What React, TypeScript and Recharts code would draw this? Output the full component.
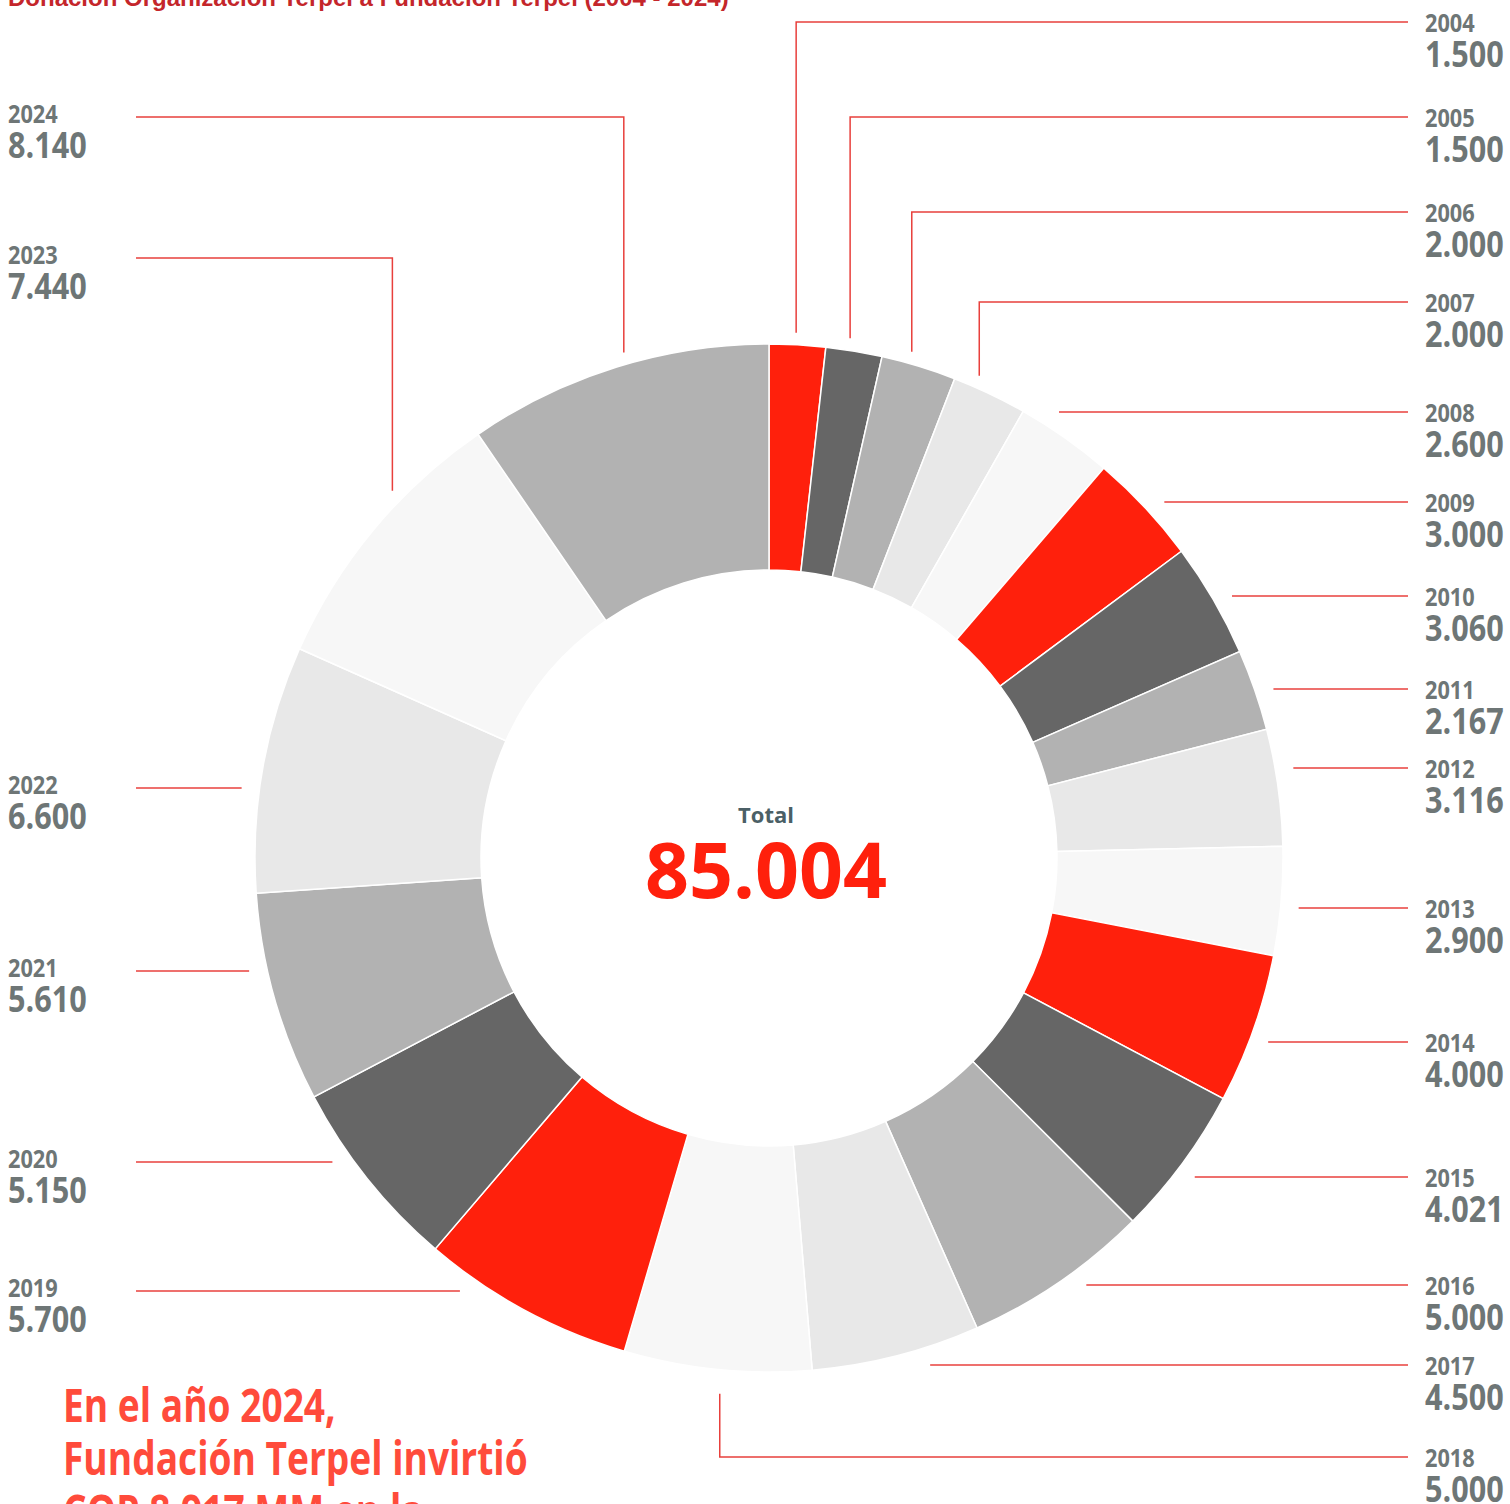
import React from "react"
import { Cell, Pie, PieChart } from "recharts"

// Donación Organización Terpel a Fundación Terpel, valores por año
const years = [
  "2004", "2005", "2006", "2007", "2008", "2009", "2010", "2011", "2012", "2013", "2014",
  "2015", "2016", "2017", "2018", "2019", "2020", "2021", "2022", "2023", "2024",
]
const values = [
  1500, 1500, 2000, 2000, 2600, 3000, 3060, 2167, 3116, 2900, 4000,
  4021, 5000, 4500, 5000, 5700, 5150, 5610, 6600, 7440, 8140,
]

// leader-line row (y of the horizontal rule) for each year, and whether it drops vertically into the slice
const leaderRows = [22, 117, 212, 302, 412, 502, 596, 689, 768, 908, 1042, 1177, 1285, 1365, 1457, 1291, 1162, 971, 788, 258, 117]
const leaderDrop = [true, true, true, true, false, false, false, false, false, false, false, false, false, false, true, false, false, false, false, true, true]
const leftSide = [false, false, false, false, false, false, false, false, false, false, false, false, false, false, false, true, true, true, true, true, true]

const palette = ["#ff200c", "#666666", "#b2b2b2", "#e8e8e8", "#f7f7f7"]
const lastColor = "#b2b2b2"

const RED_LINE = "#e8403c"
const GREY_TEXT = "#6e7676"
const SANS = "'Open Sans', sans-serif"

const fmt = (v: number) => String(v).replace(/\B(?=(\d{3})+(?!\d))/g, ".")

const data = years.map((y, i) => ({ year: y, value: values[i] }))
const total = values.reduce((a, b) => a + b, 0)

const RAD = Math.PI / 180

// Open Sans squeezed horizontally to stand in for the condensed face of the original
function Narrow({ x, y, size, fill, sx = 0.86, children }: any) {
  return (
    <text transform={`translate(${x},${y}) scale(${sx},1)`} fill={fill} fontFamily={SANS} fontWeight={700} fontSize={size}>
      {children}
    </text>
  )
}

function LeaderLabel(props: any) {
  const { cx, cy, midAngle, outerRadius, index } = props
  const rowY = leaderRows[index]
  const left = leftSide[index]
  const edgeX = left ? 136 : 1408
  let d: string
  if (leaderDrop[index]) {
    const x = cx + (outerRadius - 24) * Math.cos(-midAngle * RAD)
    const R = outerRadius + 12
    const dy = Math.sqrt(Math.max(R * R - (x - cx) * (x - cx), 0))
    const top = Math.sin(-midAngle * RAD) < 0
    const yEnd = top ? cy - dy : cy + dy + 12
    d = `M${x},${yEnd}L${x},${rowY}L${edgeX},${rowY}`
  } else {
    const R = outerRadius + 18
    const dx = Math.sqrt(Math.max(R * R - (rowY - cy) * (rowY - cy), 0))
    const x = left ? cx - dx : cx + dx
    d = `M${x},${rowY}L${edgeX},${rowY}`
  }
  const tx = left ? 8 : 1425
  return (
    <g>
      <path d={d} fill="none" stroke={RED_LINE} strokeWidth={1.5} />
      <Narrow x={tx} y={rowY + (left ? 6 : 10)} size={25} fill={GREY_TEXT} sx={0.87}>
        {years[index]}
      </Narrow>
      <Narrow x={tx} y={rowY + (left ? 41 : 45)} size={36} fill={GREY_TEXT} sx={0.85}>
        {fmt(values[index])}
      </Narrow>
    </g>
  )
}

export default function App() {
  return (
    <div style={{ position: "absolute", left: 0, top: 0, width: 1510, height: 1504, background: "#fff", overflow: "hidden" }}>
      <PieChart width={1510} height={1504} margin={{ top: 0, right: 0, bottom: 0, left: 0 }}>
        <Pie
          data={data}
          dataKey="value"
          nameKey="year"
          cx={769}
          cy={858}
          innerRadius={288}
          outerRadius={514}
          startAngle={90}
          endAngle={-270}
          stroke="#ffffff"
          strokeWidth={1.5}
          label={LeaderLabel}
          labelLine={false}
          isAnimationActive={false}
        >
          {data.map((d, i) => (
            <Cell key={d.year} fill={i === data.length - 1 ? lastColor : palette[i % palette.length]} />
          ))}
        </Pie>
      </PieChart>

      <svg width={1510} height={1504} style={{ position: "absolute", left: 0, top: 0, pointerEvents: "none" }}>
        <text x={8} y={6} fill="#c4262b" fontFamily="'Liberation Sans', Arial, sans-serif" fontWeight={700} fontSize={24}>
          Donación Organización Terpel a Fundación Terpel (2004 - 2024)
        </text>

        <text x={766} y={823} textAnchor="middle" fill="#4b5f66" fontFamily={SANS} fontWeight={700} fontSize={22}>
          Total
        </text>
        <text x={766} y={898} textAnchor="middle" fill="#ff200c" fontFamily={SANS} fontWeight={700} fontSize={77}>
          {fmt(total)}
        </text>

        <Narrow x={63} y={1422} size={47} fill="#ff4b3b" sx={0.79}>En el año 2024,</Narrow>
        <Narrow x={63} y={1475} size={47} fill="#ff4b3b" sx={0.79}>Fundación Terpel invirtió</Narrow>
        <Narrow x={63} y={1528} size={47} fill="#ff4b3b" sx={0.79}>COP 8.917 MM en la</Narrow>
      </svg>
    </div>
  )
}
